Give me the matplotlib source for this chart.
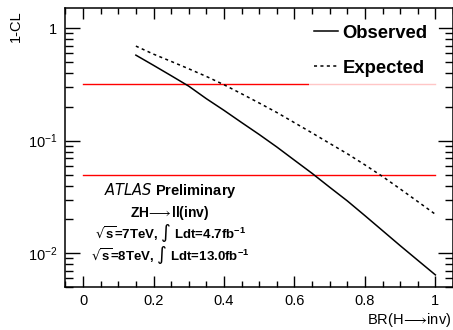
import matplotlib
matplotlib.use("Agg")
import matplotlib.pyplot as plt
from matplotlib.patches import Rectangle
from matplotlib.ticker import MultipleLocator, LogLocator, NullFormatter

plt.rcParams['font.family'] = ['Liberation Sans', 'DejaVu Sans']
plt.rcParams['mathtext.default'] = 'regular'

br = [0.15, 0.2, 0.25, 0.3, 0.35, 0.4, 0.45, 0.5, 0.55, 0.6, 0.65, 0.7,
      0.75, 0.8, 0.85, 0.9, 0.95, 1.0]
observed = [0.575, 0.467, 0.378, 0.305, 0.236, 0.186, 0.145, 0.1135, 0.0879,
            0.0671, 0.0513, 0.0386, 0.0292, 0.0216, 0.0159, 0.0117, 0.00867, 0.00643]
expected = [0.692, 0.587, 0.506, 0.435, 0.372, 0.314, 0.261, 0.216, 0.178,
            0.1445, 0.1172, 0.0946, 0.0766, 0.0610, 0.0481, 0.0373, 0.0288, 0.0222]
cl_levels = [0.3173, 0.05]
x_ticks = [0, 0.2, 0.4, 0.6, 0.8, 1]
x_tick_labels = ['0', '0.2', '0.4', '0.6', '0.8', '1']
y_ticks = [1, 0.1, 0.01]
y_tick_labels = ['1', '$10^{-1}$', '$10^{-2}$']

fig = plt.figure(figsize=(4.53, 3.30), dpi=100)
ax = fig.add_axes([0.1444, 0.1297, 0.8556, 0.8453])

for lvl in cl_levels:
    ax.plot([0, 1], [lvl, lvl], color='red', lw=1.0, zorder=1)

ax.plot(br, observed, color='black', lw=1.1, label='Observed', zorder=3)
ax.plot(br, expected, color='black', lw=1.1, ls=(0, (2, 2.2)), label='Expected', zorder=3)

ax.set_xlim(-0.05, 1.05)
ax.set_yscale('log')
ax.set_ylim(0.005, 1.5)

ax.set_xticks(x_ticks)
ax.set_xticklabels(x_tick_labels)
ax.xaxis.set_minor_locator(MultipleLocator(0.05))
ax.set_yticks(y_ticks)
ax.set_yticklabels(y_tick_labels)
ax.yaxis.set_minor_locator(LogLocator(base=10, subs=range(2, 10)))
ax.yaxis.set_minor_formatter(NullFormatter())

ax.tick_params(which='both', direction='in', top=True, right=True, labelsize=10.5)
ax.tick_params(axis='x', which='major', length=8, width=1.0, pad=5)
ax.tick_params(axis='x', which='minor', length=4, width=1.0)
ax.tick_params(axis='y', which='major', length=11, width=1.0, pad=6)
ax.tick_params(axis='y', which='minor', length=6, width=1.0)
for s in ax.spines.values():
    s.set_linewidth(1.1)

fig.text(0.035, 0.97, '1-CL', rotation=90, ha='center', va='top', fontsize=10.5)
fig.text(0.997, 0.03, r'BR(H$\!\longrightarrow\!$inv)', ha='right', va='center', fontsize=10.5)

# semi-transparent legend box
ax.add_patch(Rectangle((0.6275, 0.70), 0.3375, 0.255, transform=ax.transAxes,
                       facecolor='white', edgecolor='none', alpha=0.78, zorder=2))

leg = ax.legend(loc='upper left', bbox_to_anchor=(0.6275, 0.961), frameon=False,
                prop={'weight': 'bold', 'size': 13.3}, handlelength=1.27,
                handletextpad=0.26, borderpad=0.3, labelspacing=0.97,
                borderaxespad=0.0)
leg.set_zorder(4)

tx = 0.27
ax.text(tx, 0.346, r'$\it{ATLAS}$ Preliminary', transform=ax.transAxes,
        ha='center', va='center', fontsize=10.5, fontweight='bold')
ax.text(tx, 0.266, r'ZH$\!\longrightarrow\!$ll(inv)', transform=ax.transAxes,
        ha='center', va='center', fontsize=10, fontweight='bold')
ax.text(tx, 0.194, r'$\sqrt{s}$=7TeV, $\int$ Ldt=4.7fb$^{-1}$', transform=ax.transAxes,
        ha='center', va='center', fontsize=9.5, fontweight='bold')
ax.text(tx, 0.115, r'$\sqrt{s}$=8TeV, $\int$ Ldt=13.0fb$^{-1}$', transform=ax.transAxes,
        ha='center', va='center', fontsize=9.5, fontweight='bold')

fig.savefig('out.png', dpi=100)
